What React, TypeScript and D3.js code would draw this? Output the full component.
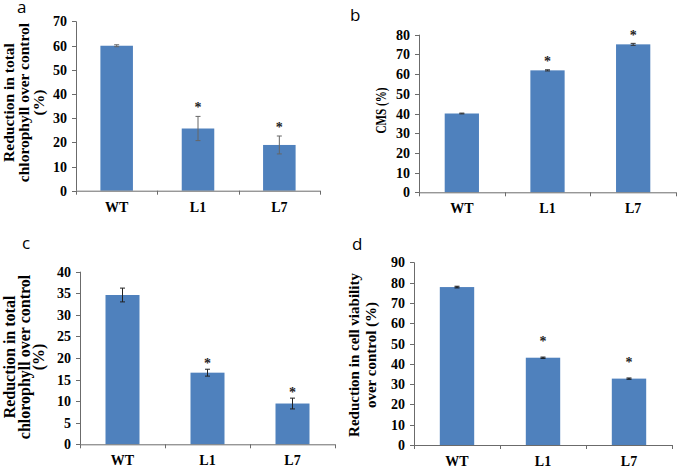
import React from 'react';
import * as d3 from 'd3';

const categories = ['WT', 'L1', 'L7'];

const valuesA = [59.9, 25.7, 18.9];
const errorsA = [0.4, 5.0, 3.7];
const starsA = [false, true, true];
const ticksA = [0, 10, 20, 30, 40, 50, 60, 70];

const valuesB = [40.0, 61.9, 75.1];
const errorsB = [0.2, 0.3, 0.5];
const starsB = [false, true, true];
const ticksB = [0, 10, 20, 30, 40, 50, 60, 70, 80];

const valuesC = [34.6, 16.6, 9.45];
const errorsC = [1.6, 0.8, 1.25];
const starsC = [false, true, true];
const ticksC = [0, 5, 10, 15, 20, 25, 30, 35, 40];

const valuesD = [77.8, 43.0, 32.7];
const errorsD = [0.4, 0.3, 0.3];
const starsD = [false, true, true];
const ticksD = [0, 10, 20, 30, 40, 50, 60, 70, 80, 90];

const BAR = '#4f81bd';
const AXIS = '#6b6b6b';
const SERIF = '"Liberation Serif", "Times New Roman", serif';
const SANS = '"Open Sans", "Noto Sans", sans-serif';

type Title = { lines: string[]; xs: number[]; cy: number; size: number; len?: number[] };

type PanelProps = {
  letter: string;
  letterX: number;
  letterY: number;
  x0: number;
  x1: number;
  yBottom: number;
  yTop: number;
  values: number[];
  errors: number[];
  stars: boolean[];
  ticks: number[];
  title: Title;
  starGap: number;
  errColor: string;
};

function Panel(p: PanelProps) {
  const max = p.ticks[p.ticks.length - 1];
  const y = d3.scaleLinear().domain([0, max]).range([p.yBottom, p.yTop]);
  const x = d3
    .scaleBand<string>()
    .domain(categories)
    .range([p.x0, p.x1])
    .paddingInner(0.6)
    .paddingOuter(0.3);
  const bw = x.bandwidth();
  const boundaries = d3.range(categories.length + 1).map((i) => p.x0 + i * ((p.x1 - p.x0) / categories.length));
  const starSize = 14;
  return (
    <g>
      <text x={p.letterX} y={p.letterY} fontFamily={SANS} fontSize={17} fill="#000">
        {p.letter}
      </text>
      {categories.map((c, i) => {
        const v = p.values[i];
        const e = p.errors[i];
        const cx = (x(c) as number) + bw / 2;
        return (
          <g key={c}>
            <rect x={x(c)} y={y(v)} width={bw} height={y(0) - y(v)} fill={BAR} />
            <line x1={cx} x2={cx} y1={y(v + e)} y2={y(v - e)} stroke={p.errColor} strokeWidth={1} />
            <line x1={cx - 2.5} x2={cx + 2.5} y1={y(v + e)} y2={y(v + e)} stroke={p.errColor} strokeWidth={1} />
            <line x1={cx - 2.5} x2={cx + 2.5} y1={y(v - e)} y2={y(v - e)} stroke={p.errColor} strokeWidth={1} />
            {p.stars[i] && (
              <text
                x={cx}
                y={y(v + e) - p.starGap + starSize * 0.48}
                textAnchor="middle"
                fontFamily={SERIF}
                fontWeight="bold"
                fontSize={starSize}
                fill="#222"
              >
                *
              </text>
            )}
            <text
              x={cx}
              y={p.yBottom + 21}
              textAnchor="middle"
              fontFamily={SERIF}
              fontWeight="bold"
              fontSize={14}
              fill="#000"
            >
              {c}
            </text>
          </g>
        );
      })}
      <line x1={p.x0 + 0.5} x2={p.x0 + 0.5} y1={p.yTop} y2={p.yBottom} stroke={AXIS} />
      <line x1={p.x0} x2={p.x1} y1={p.yBottom + 0.5} y2={p.yBottom + 0.5} stroke={AXIS} />
      {p.ticks.map((t) => (
        <g key={t}>
          <line x1={p.x0 - 4} x2={p.x0} y1={Math.round(y(t)) + 0.5} y2={Math.round(y(t)) + 0.5} stroke={AXIS} />
          <text
            x={p.x0 - 9}
            y={y(t) + 5}
            textAnchor="end"
            fontFamily={SERIF}
            fontWeight="bold"
            fontSize={14}
            fill="#000"
          >
            {t}
          </text>
        </g>
      ))}
      {boundaries.map((bx, i) => (
        <line
          key={i}
          x1={Math.round(bx) + 0.5}
          x2={Math.round(bx) + 0.5}
          y1={p.yBottom}
          y2={p.yBottom + 4}
          stroke={AXIS}
        />
      ))}
      {p.title.lines.map((ln, i) => (
        <text
          key={i}
          transform={`translate(${p.title.xs[i]},${p.title.cy}) rotate(-90)`}
          textAnchor="middle"
          fontFamily={SERIF}
          fontWeight="bold"
          fontSize={p.title.size}
          fill="#000"
          {...(p.title.len ? { textLength: p.title.len[i], lengthAdjust: 'spacingAndGlyphs' } : {})}
        >
          {ln}
        </text>
      ))}
    </g>
  );
}

export default function App() {
  return (
    <svg
      width={680}
      height={471}
      style={{ position: 'absolute', left: 0, top: 0, background: '#fff' }}
    >
      <rect width={680} height={471} fill="#fff" />
      <Panel
        letter="a"
        letterX={17}
        letterY={13}
        x0={76}
        x1={320}
        yBottom={190.7}
        yTop={21.3}
        values={valuesA}
        errors={errorsA}
        stars={starsA}
        ticks={ticksA}
        starGap={11}
        errColor="#666"
        title={{
          lines: ['Reduction in total', 'chlorophyll over control', '(%)'],
          xs: [13.5, 29, 43.5],
          cy: 102.5,
          size: 15.5,
        }}
      />
      <Panel
        letter="b"
        letterX={350}
        letterY={21}
        x0={419}
        x1={676}
        yBottom={192.3}
        yTop={34.7}
        values={valuesB}
        errors={errorsB}
        stars={starsB}
        ticks={ticksB}
        starGap={10}
        errColor="#333"
        title={{ lines: ['CMS (%)'], xs: [386], cy: 110.5, size: 15, len: [46] }}
      />
      <Panel
        letter="c"
        letterX={22}
        letterY={249}
        x0={80}
        x1={335}
        yBottom={444.3}
        yTop={271.7}
        values={valuesC}
        errors={errorsC}
        stars={starsC}
        ticks={ticksC}
        starGap={8}
        errColor="#222"
        title={{
          lines: ['Reduction in total', 'chlorophyll over control', '(%)'],
          xs: [14.5, 29.5, 43.5],
          cy: 357,
          size: 16,
        }}
      />
      <Panel
        letter="d"
        letterX={352}
        letterY={250}
        x0={414}
        x1={672}
        yBottom={445}
        yTop={262.3}
        values={valuesD}
        errors={errorsD}
        stars={starsD}
        ticks={ticksD}
        starGap={18}
        errColor="#111"
        title={{
          lines: ['Reduction  in cell viability', 'over control (%)'],
          xs: [359, 376],
          cy: 355,
          size: 15,
        }}
      />
    </svg>
  );
}
